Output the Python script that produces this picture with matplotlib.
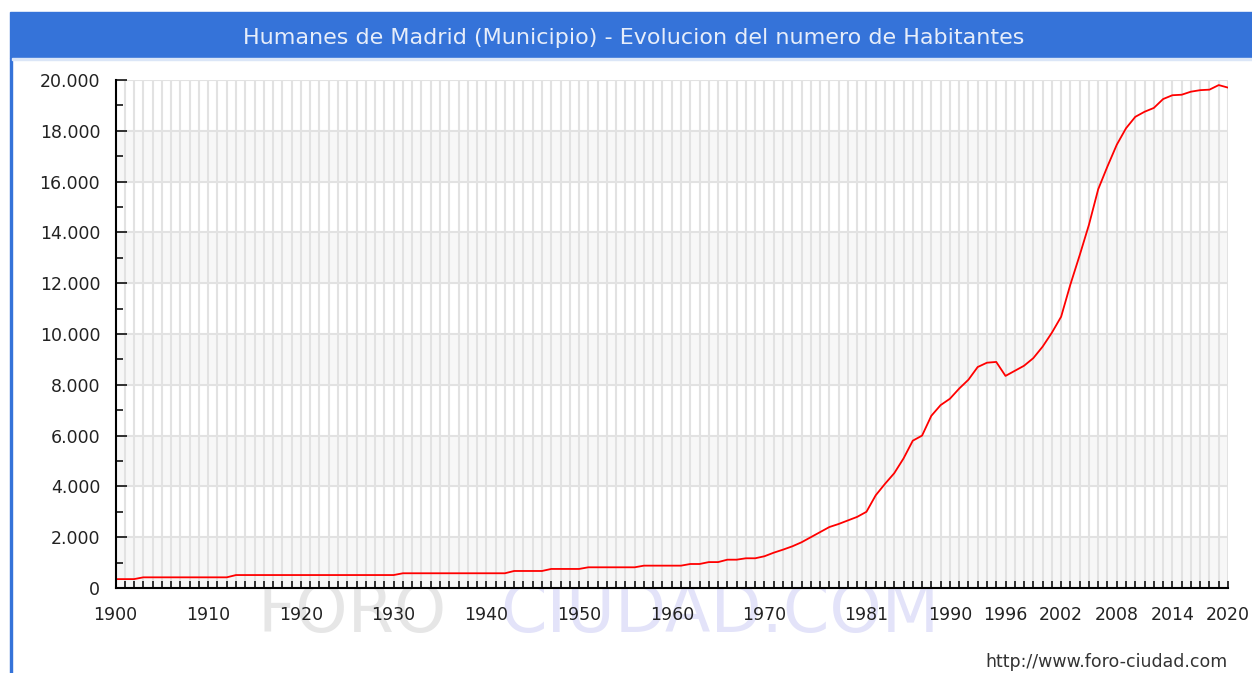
import matplotlib.pyplot as plt
import matplotlib.ticker as mticker
from matplotlib.patches import Rectangle

# population (vertices of the line)
years = [1900, 1902, 1903, 1912, 1913, 1930, 1931, 1942, 1943, 1946, 1947,
         1950, 1951, 1956, 1957, 1961, 1962, 1963, 1964, 1965, 1966, 1967,
         1968, 1969, 1970, 1971, 1972, 1973, 1974, 1975, 1976, 1977, 1978,
         1979, 1980, 1981, 1982, 1983, 1984, 1985, 1986, 1987, 1988, 1989,
         1990, 1991, 1992, 1993, 1994, 1995, 1996, 1997, 1998, 1999, 2000,
         2001, 2002, 2003, 2004, 2005, 2006, 2007, 2008, 2009, 2010, 2011,
         2012, 2013, 2014, 2015, 2016, 2017, 2018, 2019, 2020]
pop = [350, 350, 420, 420, 510, 510, 580, 580, 670, 670, 750,
       750, 815, 815, 880, 880, 945, 945, 1020, 1020, 1115, 1115,
       1170, 1170, 1250, 1390, 1510, 1640, 1800, 2000, 2200, 2400, 2520,
       2660, 2800, 3000, 3650, 4100, 4520, 5100, 5800, 6000, 6780, 7200,
       7450, 7850, 8200, 8700, 8870, 8900, 8350, 8550, 8750, 9050, 9500,
       10050, 10680, 11950, 13100, 14300, 15700, 16600, 17450, 18100, 18550, 18750,
       18900, 19250, 19400, 19420, 19540, 19600, 19620, 19800, 19700]

xtick_years = [1900, 1910, 1920, 1930, 1940, 1950, 1960, 1970, 1981, 1990,
               1996, 2002, 2008, 2014, 2020]
yticks = list(range(0, 20001, 2000))

title = "Humanes de Madrid (Municipio) - Evolucion del numero de Habitantes"

W, H = 1252, 673
fig = plt.figure(figsize=(W / 100, H / 100), dpi=100)

# title bar + left frame
fig.patches.append(Rectangle((10 / W, 1 - 58 / H), 1 - 10 / W, 46 / H,
                             transform=fig.transFigure, color="#3573d9", zorder=0))
fig.patches.append(Rectangle((10 / W, 0), 2 / W, 1 - 58 / H,
                             transform=fig.transFigure, color="#3573d9", zorder=0))
fig.patches.append(Rectangle((12 / W, 1 - 60 / H), 1 - 12 / W, 2 / H,
                             transform=fig.transFigure, color="#dbe6f7", zorder=0))
fig.text(634 / W, 1 - 38 / H, title, color="#e6edfa", fontsize=16,
         ha="center", va="center")

ax = fig.add_axes([115.5 / W, 1 - 588 / H, (1228 - 115.5) / W, (588 - 80) / H])
ax.set_xlim(1900, 2020)
ax.set_ylim(0, 20000)

for lo in range(0, 20000, 4000):
    ax.axhspan(lo, lo + 2000, color="#f7f7f7", zorder=0, lw=0)
for yr in range(1901, 2021):
    ax.axvline(yr, color="#e2e2e2", lw=1.5, zorder=1)
for v in yticks[1:]:
    ax.axhline(v, color="#e2e2e2", lw=1.5, zorder=1)

ax.plot(years, pop, color="#ff0000", lw=1.3, zorder=3)

for s in ["top", "right"]:
    ax.spines[s].set_visible(False)
for s in ["left", "bottom"]:
    ax.spines[s].set_linewidth(1.5)
    ax.spines[s].set_zorder(4)

ax.set_yticks(yticks)
ax.yaxis.set_minor_locator(mticker.MultipleLocator(1000))
ax.yaxis.set_major_formatter(mticker.FuncFormatter(lambda v, p: f"{int(v):,}".replace(",", ".")))
ax.tick_params(axis="y", which="major", direction="in", length=8, width=1.1,
               pad=11, labelsize=12.5, labelcolor="#222222")
ax.tick_params(axis="y", which="minor", direction="in", length=5, width=1.1)

ax.set_xticks(xtick_years)
ax.set_xticklabels([str(y) for y in xtick_years])
ax.xaxis.set_minor_locator(mticker.MultipleLocator(1))
ax.tick_params(axis="x", which="both", direction="in", length=5, width=1.1)
ax.tick_params(axis="x", which="major", pad=13, labelsize=12.5, labelcolor="#222222")

# watermark
fig.text(258 / W, 1 - 613 / H, "FORO", color="#e6e6e6", fontsize=48,
         ha="left", va="center", zorder=-1)
fig.text(500 / W, 1 - 613 / H, "CIUDAD.COM", color="#e3e3f9", fontsize=48,
         ha="left", va="center", zorder=-1)

fig.text(1228 / W, 1 - 662 / H, "http://www.foro-ciudad.com", color="#333333",
         fontsize=12.5, ha="right", va="center")

fig.savefig("out.png", dpi=100)
